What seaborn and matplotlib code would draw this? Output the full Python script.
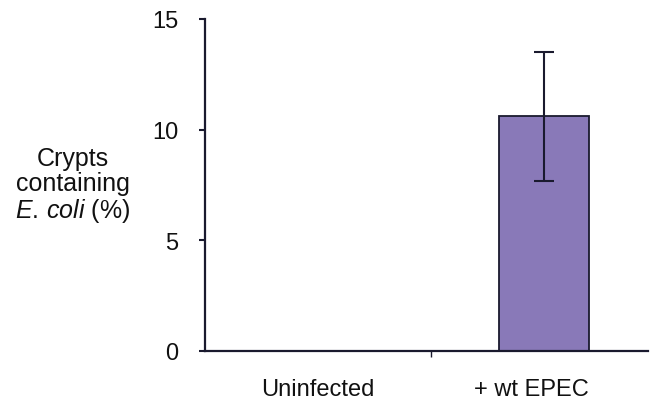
import matplotlib
matplotlib.use("Agg")
import matplotlib.pyplot as plt
import seaborn as sns
import pandas as pd

categories = ["Uninfected", "+ wt EPEC"]
crypts_pct = [0.0, 10.6]
sem_pct = [0.0, 2.9]
y_ticks = [0, 5, 10, 15]

sns.set_theme(style="white")
plt.rcParams["font.family"] = ["Liberation Sans", "DejaVu Sans"]
plt.rcParams["mathtext.fontset"] = "custom"
plt.rcParams["mathtext.rm"] = "Liberation Sans"
plt.rcParams["mathtext.it"] = "Liberation Sans:italic"

FS = 17
INK = "#1a1a2e"

df = pd.DataFrame({"group": categories, "value": crypts_pct})

fig = plt.figure(figsize=(6.5, 4.06), dpi=100)
ax = fig.add_axes([205 / 650, 54 / 406, 443 / 650, 332 / 406])

sns.barplot(data=df, x="group", y="value", color="#8979b8", saturation=1,
            width=0.4, edgecolor=INK, linewidth=1.3, errorbar=None, ax=ax)

# error bar on the infected group only
ax.errorbar([1], [crypts_pct[1]], yerr=[sem_pct[1]], fmt="none",
            ecolor=INK, elinewidth=1.5, capsize=7, capthick=1.5)

ax.set_xlim(-0.5, 1.46)
ax.set_ylim(0, 15)
ax.set_yticks(y_ticks)
ax.set_yticklabels([str(t) for t in y_ticks], fontsize=FS, color="#111111")
ax.set_xticks([0.5])
ax.set_xticklabels([""])
ax.tick_params(axis="x", direction="out", length=4, width=1, color=INK, bottom=True)
ax.tick_params(axis="y", direction="out", length=4, width=1.5, color=INK, left=True, pad=15)

# group names under the axis; the second sits a little left of its bar
for lbl, xpos in zip(categories, [0, 0.945]):
    ax.text(xpos, -0.082, lbl, transform=ax.get_xaxis_transform(),
            ha="center", va="top", fontsize=FS, color="#111111")

for side in ["top", "right"]:
    ax.spines[side].set_visible(False)
for side in ["left", "bottom"]:
    ax.spines[side].set_color(INK)
    ax.spines[side].set_linewidth(1.6)

ax.set_xlabel("")
ax.set_ylabel("")
fig.text(73 / 650, 1 - 186 / 406, "Crypts\ncontaining\n$E.\\,coli$ (%)",
         ha="center", va="center", fontsize=18, color="#111111", linespacing=1.05)

fig.savefig("out.png", dpi=100, facecolor="white")
